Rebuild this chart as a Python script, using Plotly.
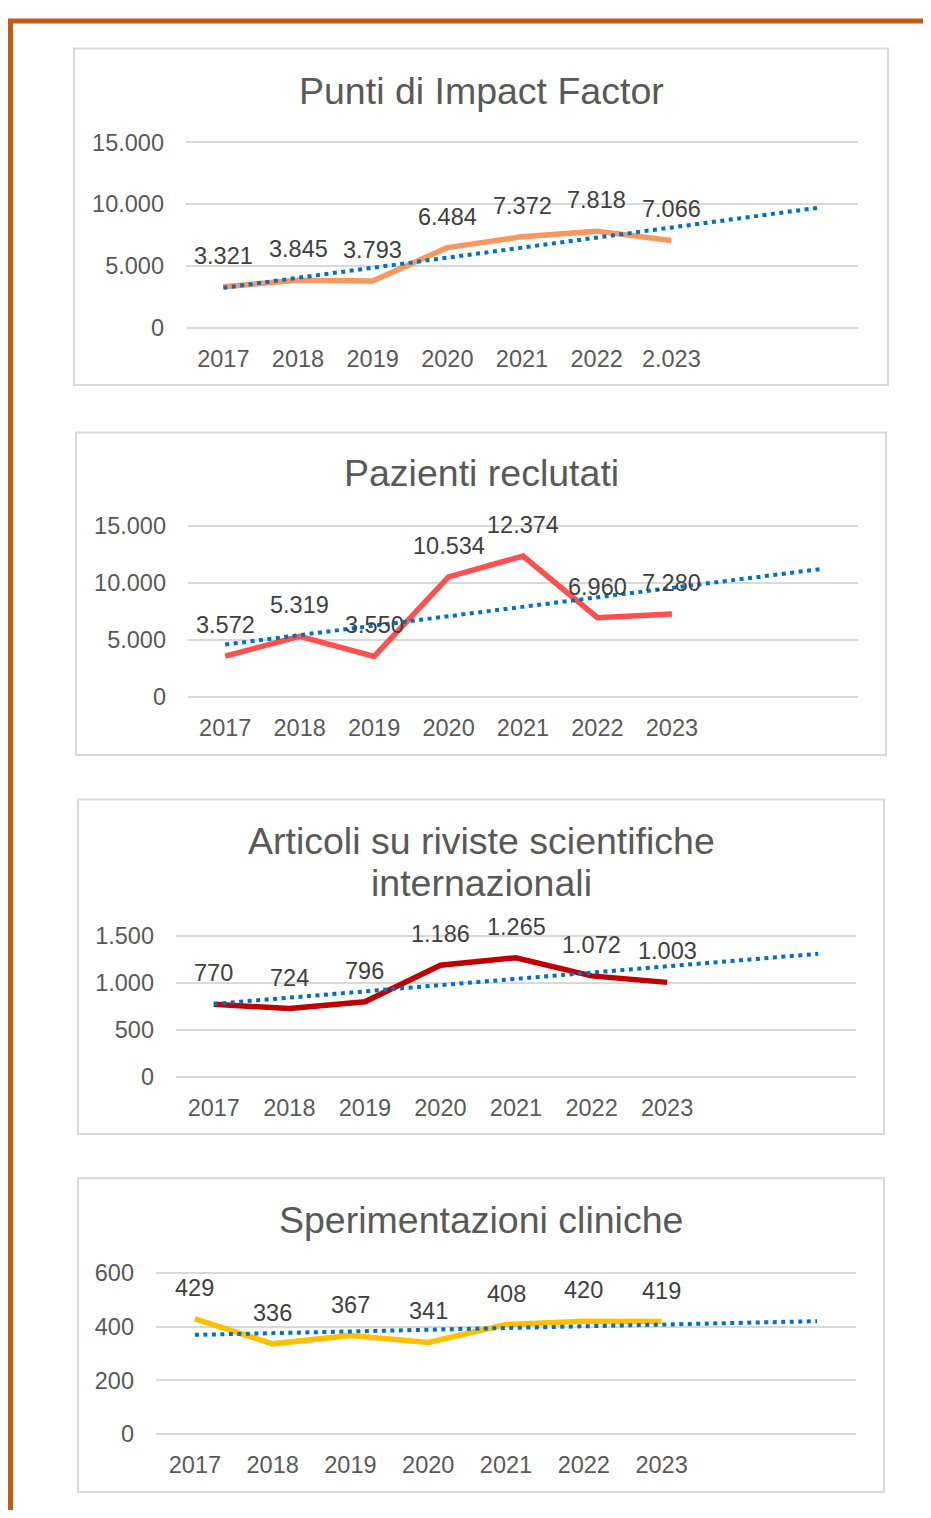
import numpy as np
import plotly.graph_objects as go

W, H = 915, 1502   # figure fits inside the 931x1518 window with the page's 8px margin
OX, OY = 8, 8      # page offset of the figure inside the browser window

years = ["2017", "2018", "2019", "2020", "2021", "2022", "2023"]
years_if = ["2017", "2018", "2019", "2020", "2021", "2022", "2.023"]

impact_factor = [3321, 3845, 3793, 6484, 7372, 7818, 7066]
pazienti = [3572, 5319, 3550, 10534, 12374, 6960, 7280]
articoli = [770, 724, 796, 1186, 1265, 1072, 1003]
sperimentazioni = [429, 336, 367, 341, 408, 420, 419]

if_ticks = [0, 5000, 10000, 15000]
paz_ticks = [0, 5000, 10000, 15000]
art_ticks = [0, 500, 1000, 1500]
sper_ticks = [0, 200, 400, 600]

titles = [["Punti di Impact Factor"], ["Pazienti reclutati"],
          ["Articoli su riviste scientifiche", "internazionali"], ["Sperimentazioni cliniche"]]


def fmt(v):
    return f"{v:,}".replace(",", ".")


def px(x):
    return (x - OX) / W


def py(y):
    return 1 - (y - OY) / H


panels = [
    dict(vals=impact_factor, labels=years_if, ticks=if_ticks, color="#F8975F",
         box=(74, 39, 888, 380), plot=(186, 134, 858, 322), title_y=[82]),
    dict(vals=pazienti, labels=years, ticks=paz_ticks, color="#FF5050",
         box=(76, 428, 886, 755), plot=(188, 523, 858, 696), title_y=[469]),
    dict(vals=articoli, labels=years, ticks=art_ticks, color="#C00000",
         box=(78, 800, 884, 1139), plot=(176, 938, 856, 1081), title_y=[842, 885]),
    dict(vals=sperimentazioni, labels=years, ticks=sper_ticks, color="#FFC000",
         box=(78, 1184, 884, 1502), plot=(156, 1280, 856, 1443), title_y=[1226]),
]

fig = go.Figure()
shapes = []
annotations = []

FONT = "Liberation Sans, Arial, sans-serif"
PAD = 3

for i, p in enumerate(panels):
    n = i + 1
    xa = "x" if n == 1 else f"x{n}"
    ya = "y" if n == 1 else f"y{n}"
    xs = list(range(len(p["vals"])))
    fig.add_trace(go.Scatter(x=xs, y=p["vals"], mode="lines",
                             line=dict(color=p["color"], width=5.5),
                             xaxis=xa, yaxis=ya, showlegend=False, hoverinfo="skip"))
    # linear trendline, forecast 2 periods forward
    slope, icpt = np.polyfit(xs, p["vals"], 1)
    tx = [0, len(xs) + 1]
    ty = [icpt + slope * t for t in tx]
    fig.add_trace(go.Scatter(x=tx, y=ty, mode="lines",
                             line=dict(color="#0070C0", width=4, dash="4px,4.5px"),
                             xaxis=xa, yaxis=ya, showlegend=False, hoverinfo="skip"))
    for x, v in zip(xs, p["vals"]):
        annotations.append(dict(x=x, y=v, xref=xa, yref=ya, text=fmt(v), showarrow=False,
                                yshift=31, font=dict(family=FONT, size=23.5, color="#404040")))
    l, t, r, b = p["plot"]
    tickvals = p["ticks"]
    vpp = tickvals[-1] / (b - t)
    fig.update_layout(**{
        ("xaxis" if n == 1 else f"xaxis{n}"): dict(
            domain=[px(l), px(r)], range=[-0.5, 8.5], anchor=ya,
            tickvals=xs, ticktext=p["labels"], showgrid=False, zeroline=False,
            showline=False, ticks="", ticklabelstandoff=12,
            tickfont=dict(family=FONT, size=23.5, color="#595959")),
        ("yaxis" if n == 1 else f"yaxis{n}"): dict(
            domain=[py(b + PAD), py(t - PAD)], range=[-PAD * vpp, tickvals[-1] + PAD * vpp],
            anchor=xa, tickvals=tickvals, ticktext=[fmt(v) for v in tickvals],
            showgrid=True, gridcolor="#D9D9D9", gridwidth=2, zeroline=False,
            showline=False, ticks="", ticklabelstandoff=21,
            tickfont=dict(family=FONT, size=23.5, color="#595959")),
    })
    bx0, by0, bx1, by1 = p["box"]
    shapes.append(dict(type="rect", xref="paper", yref="paper",
                       x0=px(bx0), x1=px(bx1), y0=py(by1), y1=py(by0),
                       line=dict(color="#D9D9D9", width=2), fillcolor="rgba(0,0,0,0)"))
    for line_text, ty_ in zip(titles[i], p["title_y"]):
        annotations.append(dict(x=px((bx0 + bx1) / 2), y=py(ty_), xref="paper", yref="paper",
                                text=line_text, showarrow=False, xanchor="center", yanchor="middle",
                                font=dict(family=FONT, size=37.5, color="#595959")))

# orange frame
shapes.append(dict(type="line", xref="paper", yref="paper", x0=px(8), x1=px(940),
                   y0=py(11), y1=py(11), line=dict(color="#C55A11", width=5)))
shapes.append(dict(type="line", xref="paper", yref="paper", x0=px(10.5), x1=px(10.5),
                   y0=py(9), y1=py(1530), line=dict(color="#C55A11", width=5)))

fig.update_layout(width=W, height=H, margin=dict(l=0, r=0, t=0, b=0),
                  paper_bgcolor="white", plot_bgcolor="white",
                  shapes=shapes, annotations=annotations, showlegend=False)

fig.write_html("out.html")
